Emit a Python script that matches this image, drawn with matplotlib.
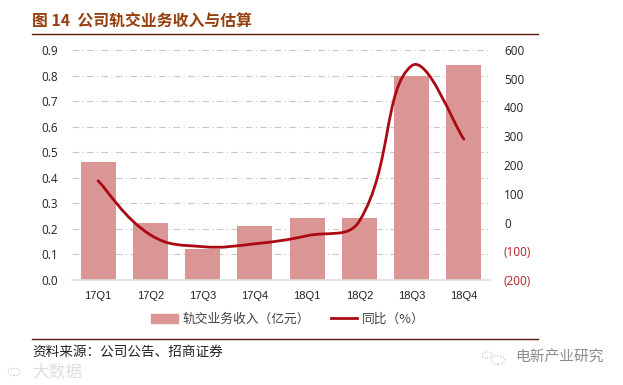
import matplotlib
matplotlib.use("Agg")
import matplotlib.pyplot as plt
import numpy as np
from matplotlib.lines import Line2D
from matplotlib.patches import Circle, PathPatch, Patch
from matplotlib.path import Path

plt.rcParams['font.family'] = ['Open Sans', 'Noto Sans CJK SC', 'DejaVu Sans']

quarters = ['17Q1', '17Q2', '17Q3', '17Q4', '18Q1', '18Q2', '18Q3', '18Q4']
revenue = [0.46, 0.223, 0.12, 0.21, 0.243, 0.243, 0.80, 0.84]
yoy = [145, -43, -84, -74, -46, 5, 545, 290]
left_ticks = [0.0, 0.1, 0.2, 0.3, 0.4, 0.5, 0.6, 0.7, 0.8, 0.9]
right_ticks = [-200, -100, 0, 100, 200, 300, 400, 500, 600]
right_labels = ['(200)', '(100)', '0', '100', '200', '300', '400', '500', '600']

W, H = 623, 385
BAR_COLOR = '#d99694'
LINE_COLOR = '#ab0a12'
TITLE_COLOR = '#953f0c'
CJK = ['Noto Sans CJK SC', 'DejaVu Sans']


def smooth_path(x, y, s=0.42, sx=52.0, sy=0.2875):
    # excel style smoothed line, handles scaled by the on-screen segment length
    n = len(x)
    d = [np.hypot((x[i + 1] - x[i]) * sx, (y[i + 1] - y[i]) * sy) for i in range(n - 1)]
    verts = [(x[0], y[0])]
    codes = [Path.MOVETO]
    for i in range(n - 1):
        if i == 0:
            c1 = (x[0] + s * (x[1] - x[0]) / 2, y[0] + s * (y[1] - y[0]) / 2)
        else:
            f = s * d[i] / (d[i - 1] + d[i])
            c1 = (x[i] + f * (x[i + 1] - x[i - 1]), y[i] + f * (y[i + 1] - y[i - 1]))
        if i == n - 2:
            c2 = (x[i + 1] - s * (x[i + 1] - x[i]) / 2, y[i + 1] - s * (y[i + 1] - y[i]) / 2)
        else:
            f = s * d[i] / (d[i] + d[i + 1])
            c2 = (x[i + 1] - f * (x[i + 2] - x[i]), y[i + 1] - f * (y[i + 2] - y[i]))
        verts += [c1, c2, (x[i + 1], y[i + 1])]
        codes += [Path.CURVE4] * 3
    return Path(verts, codes)


fig = plt.figure(figsize=(W / 100, H / 100), dpi=100)
ax = fig.add_axes([72 / W, 1 - 280 / H, (490 - 72) / W, 230 / H])
xs = np.arange(len(quarters))

ax.bar(xs, revenue, width=0.67, color=BAR_COLOR, zorder=2)
ax.set_xlim(-0.5, len(quarters) - 0.5)
ax.set_ylim(0, 0.9)
ax.set_xticks(xs)
ax.set_xticklabels(quarters, fontsize=8, color='#222222', family=['Liberation Sans'])
ax.set_yticks(left_ticks)
ax.set_yticklabels(['%.1f' % v for v in left_ticks], fontsize=8.5, color='#222222')
ax.tick_params(length=0)
ax.tick_params(axis='x', pad=8)
ax.tick_params(axis='y', pad=10)
ax.grid(axis='y', color='#c8c8c8', linewidth=0.8, linestyle=(0, (6, 3, 1, 3)), zorder=0)
for s in ['top', 'left', 'right']:
    ax.spines[s].set_visible(False)
ax.spines['bottom'].set_color('#dddddd')
ax.spines['bottom'].set_linewidth(1.2)

ax2 = ax.twinx()
ax2.set_ylim(-200, 600)
ax2.set_yticks(right_ticks)
ax2.set_yticklabels(right_labels, fontsize=8.5, color='#222222')
for lab, v in zip(ax2.get_yticklabels(), right_ticks):
    if v < 0:
        lab.set_color('#b3202a')
ax2.tick_params(length=0, pad=10)
for s in ax2.spines.values():
    s.set_visible(False)
ax2.add_patch(PathPatch(smooth_path(xs, yoy), fill=False, edgecolor=LINE_COLOR,
                        linewidth=2, capstyle='round', zorder=3))

handles = [Patch(color=BAR_COLOR), Line2D([], [], color=LINE_COLOR, linewidth=2)]
fig.legend(handles, ['轨交业务收入（亿元）', '同比（%）'], ncol=2, frameon=False,
           loc='center', bbox_to_anchor=(288 / W, 1 - 319 / H),
           prop={'family': CJK, 'size': 9.2}, handlelength=2.1, handleheight=0.7,
           handletextpad=0.35, columnspacing=1.6, labelcolor='#444444')

# header and footer
fig.text(32 / W, 1 - 21 / H, '图 14  公司轨交业务收入与估算', fontsize=11.4, fontweight='bold',
         color=TITLE_COLOR, family=CJK, va='center')
fig.add_artist(Line2D([32 / W, 538 / W], [1 - 34 / H] * 2, color='#5c1a0a', linewidth=1))
fig.add_artist(Line2D([32 / W, 538 / W], [1 - 339 / H] * 2, color='#5c1a0a', linewidth=1))
fig.text(32 / W, 1 - 352 / H, '资料来源：公司公告、招商证券', fontsize=9.8, color='#222222',
         family=CJK, va='center')

# watermarks
fig.text(515 / W, 1 - 358 / H, '电新产业研究', fontsize=10.6, color='#8c8c8c', family=CJK, va='center')
fig.text(32 / W, 1 - 372 / H, '大数据', fontsize=12, color='#dedede', family=CJK, va='center')
for cx, cy, r in [(487, 355, 5), (498, 360, 7), (14, 372, 6)]:
    fig.add_artist(Circle((cx / W, 1 - cy / H), r / W, fill=False, edgecolor='#b8b8b8',
                          linewidth=0.8, linestyle=':', transform=fig.transFigure))

fig.savefig('out.png', dpi=100)
